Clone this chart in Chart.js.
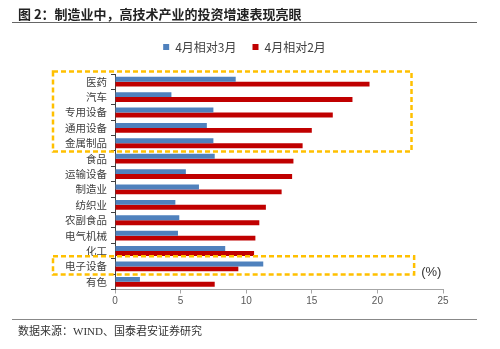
<!DOCTYPE html>
<html>
<head>
<meta charset="utf-8">
<script src="https://cdn.jsdelivr.net/npm/chart.js@4/dist/chart.umd.min.js"></script>
<style>
  html, body { margin: 0; padding: 0; background: #fff; }
  #wrap { position: relative; width: 500px; height: 349px; overflow: hidden; }
  #chart { position: absolute; left: 0; top: 0; }
  .title {
    position: absolute; left: 18px; top: 6px; font: 700 13px/15px "Noto Sans CJK SC", sans-serif;
    color: #222; white-space: nowrap;
  }
  .rule { position: absolute; left: 12px; width: 465px; height: 1px; }
  .source {
    position: absolute; left: 18px; top: 325px; font: 11px/13px "Liberation Serif", "Noto Sans CJK SC", serif;
    color: #333; white-space: nowrap;
  }
</style>
</head>
<body>
<div id="wrap">
  <canvas id="chart" width="500" height="349"></canvas>
  <div class="title">图 2：制造业中，高技术产业的投资增速表现亮眼</div>
  <div class="rule" style="top:22px;background:#666;"></div>
  <div class="rule" style="top:319px;background:#888;"></div>
  <div class="source">数据来源：WIND、国泰君安证券研究</div>
</div>
<script>
// Industries, top to bottom
const categories = ['医药', '汽车', '专用设备', '通用设备', '金属制品', '食品', '运输设备',
  '制造业', '纺织业', '农副食品', '电气机械', '化工', '电子设备', '有色'];
// Investment growth, April relative to March (%)
const aprVsMar = [9.2, 4.3, 7.5, 7.0, 7.5, 7.6, 5.4, 6.4, 4.6, 4.9, 4.8, 8.4, 11.3, 1.9];
// Investment growth, April relative to February (%)
const aprVsFeb = [19.4, 18.1, 16.6, 15.0, 14.3, 13.6, 13.5, 12.7, 11.5, 11.0, 10.7, 10.6, 9.4, 7.6];
// Value axis ticks
const xTicks = [0, 5, 10, 15, 20, 25];

// Dashed highlight frames around groups of industries, plus the unit label
const highlightPlugin = {
  id: 'highlight',
  afterDatasetsDraw(chart, args, opts) {
    const {ctx, chartArea, scales: {x, y}} = chart;
    const band = (chartArea.bottom - chartArea.top) / categories.length;
    ctx.save();
    ctx.strokeStyle = opts.color;
    ctx.lineWidth = opts.lineWidth;
    ctx.setLineDash(opts.dash);
    let last = null;
    opts.groups.forEach(g => {
      const top = y.getPixelForValue(categories.indexOf(g.from)) - band / 2 - 2.5;
      const bottom = y.getPixelForValue(categories.indexOf(g.to)) + band / 2 + 0.5;
      const left = chartArea.left - 62;
      const right = x.getPixelForValue(g.xMax);
      ctx.strokeRect(left, top, right - left, bottom - top);
      last = {right, bottom};
    });
    ctx.setLineDash([]);
    if (last) {
      ctx.fillStyle = '#333';
      ctx.font = '13px "Liberation Sans", "Noto Sans CJK SC", sans-serif';
      ctx.textAlign = 'left';
      ctx.textBaseline = 'middle';
      ctx.fillText(opts.unit, last.right + 7, last.bottom - 2);
    }
    ctx.restore();
  }
};

// Extra room between the legend row and the plot
const legendGapPlugin = {
  id: 'legendGap',
  beforeLayout(chart, args, opts) {
    const lg = chart.legend;
    if (lg && !lg._gapWrapped) {
      const fit = lg.fit.bind(lg);
      lg.fit = function () { fit(); this.height += opts.extra; };
      lg._gapWrapped = true;
    }
  }
};

new Chart(document.getElementById('chart'), {
  type: 'bar',
  data: {
    labels: categories,
    datasets: [
      { label: '4月相对3月', data: aprVsMar, backgroundColor: '#4F81BD' },
      { label: '4月相对2月', data: aprVsFeb, backgroundColor: '#C00000' }
    ]
  },
  options: {
    indexAxis: 'y',
    responsive: false,
    animation: false,
    devicePixelRatio: 1,
    layout: { padding: { top: 25, left: 46, right: 57, bottom: 29.5 } },
    datasets: { bar: { categoryPercentage: 0.64, barPercentage: 1.0 } },
    scales: {
      x: {
        min: 0, max: 25,
        afterBuildTicks(scale) { scale.ticks = xTicks.map(v => ({ value: v })); },
        afterFit(scale) { scale.height = 30; },
        grid: { drawOnChartArea: false, drawTicks: true, tickLength: 4, color: '#a6a6a6' },
        border: { color: '#a6a6a6', width: 1 },
        ticks: { padding: 2, color: '#595959', font: { size: 10, family: '"Liberation Sans", sans-serif' } }
      },
      y: {
        afterFit(scale) { scale.width = 69; },
        grid: { drawOnChartArea: false, drawTicks: true, tickLength: 4, color: '#404040', offset: true },
        border: { color: '#404040', width: 1 },
        ticks: {
          autoSkip: false, padding: 4, color: '#404040',
          font: { size: 10.5, family: '"Noto Sans CJK SC", sans-serif' }
        }
      }
    },
    plugins: {
      legend: {
        position: 'top',
        labels: {
          boxWidth: 6, boxHeight: 6, padding: 16, color: '#404040',
          font: { size: 12, family: '"Noto Sans CJK SC", sans-serif' }
        }
      },
      legendGap: { extra: 11 },
      tooltip: { enabled: false },
      highlight: {
        color: '#FFC000', lineWidth: 2.5, dash: [5, 3], unit: '(%)',
        groups: [
          { from: '医药', to: '金属制品', xMax: 22.6 },
          { from: '电子设备', to: '电子设备', xMax: 22.8 }
        ]
      }
    }
  },
  plugins: [highlightPlugin, legendGapPlugin]
});
</script>
</body>
</html>
